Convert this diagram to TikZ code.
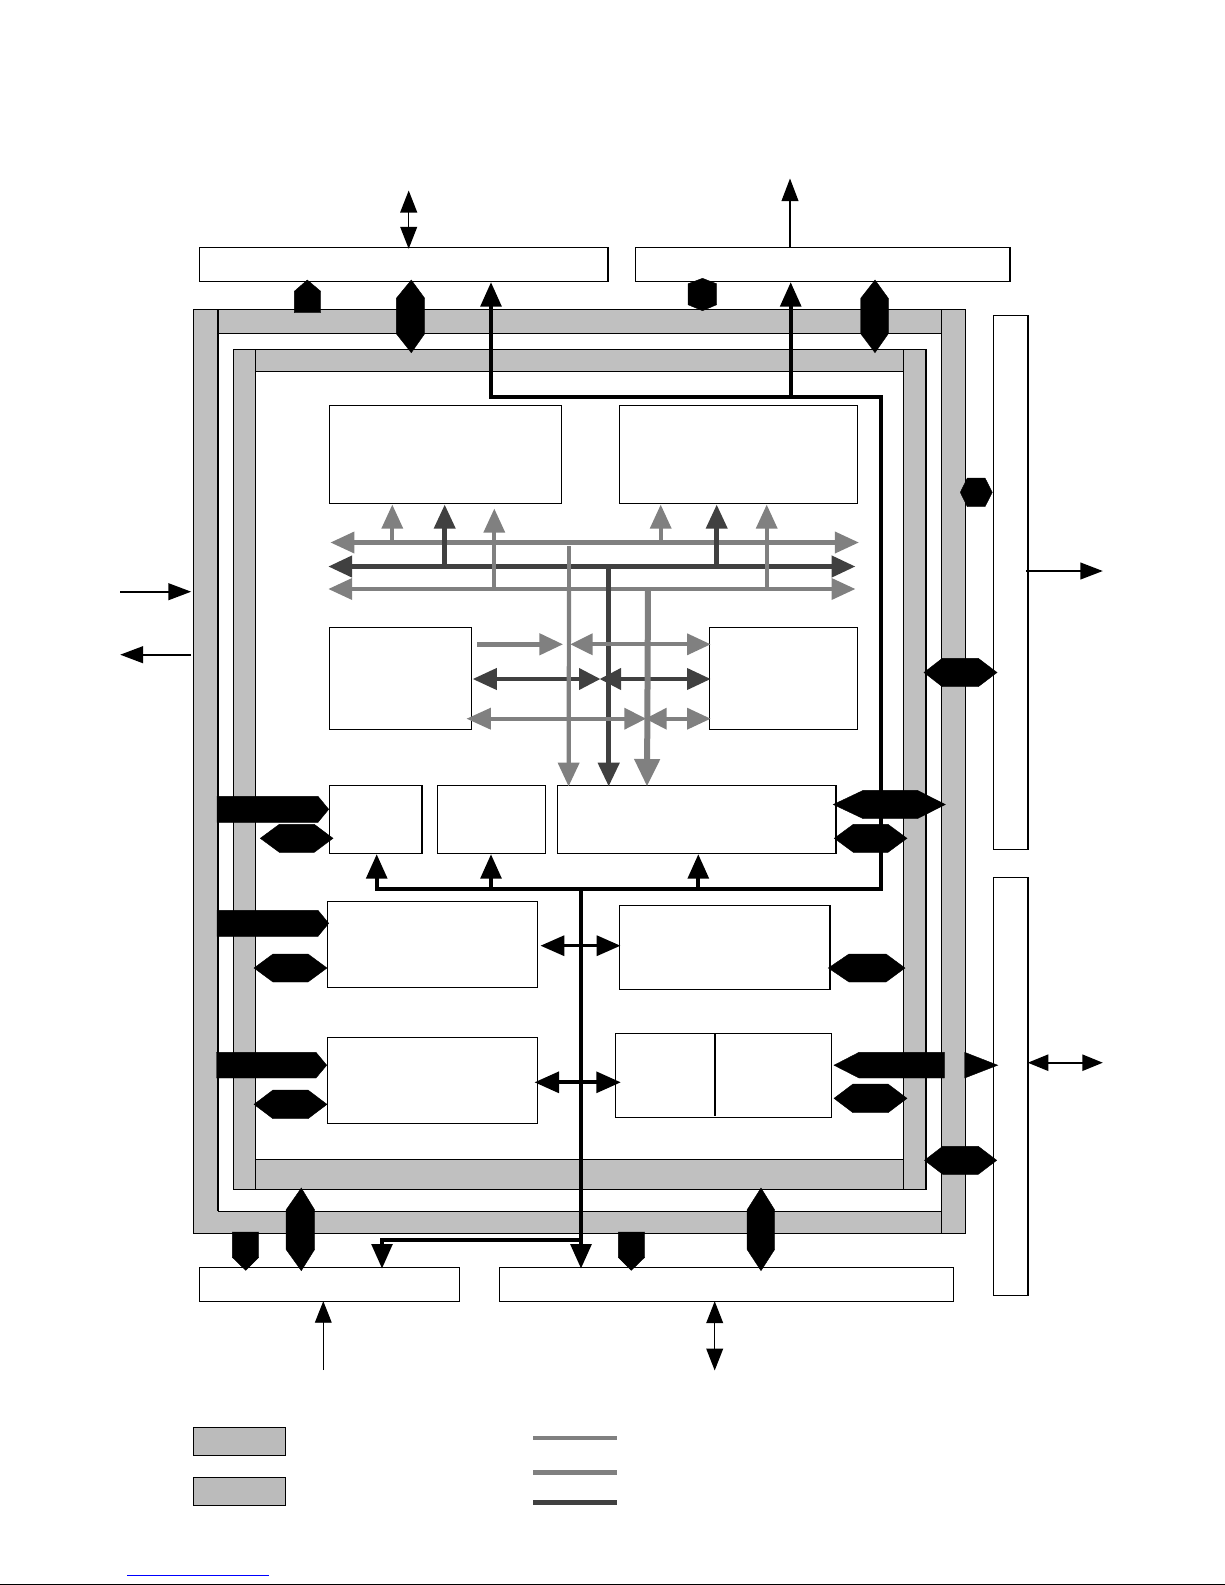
\documentclass[tikz,border=0pt]{standalone}
\usetikzlibrary{arrows.meta}
\definecolor{ringgray}{HTML}{C0C0C0}
\definecolor{busgray}{HTML}{808080}
\definecolor{busdark}{HTML}{404040}
\definecolor{legendgray}{HTML}{BBBBBB}
\tikzset{
  blockbox/.style={draw=black,fill=white,line width=1pt,inner sep=0pt,outer sep=0pt},
  legendbox/.style={draw=black,fill=legendgray,line width=1.3pt,inner sep=0pt,outer sep=0pt},
  heavyedge/.style={draw=black,line width=1.9pt,line cap=butt},
  ringline/.style={draw=black,line width=1pt,line cap=butt},
  fatmark/.style={fill=black,draw=black,line width=0.4pt,line join=miter},
  thinout/.style={draw=black,line cap=butt,-{Triangle[length=22.5pt,width=16.8pt]}},
  thinboth/.style={draw=black,line cap=butt,{Triangle[length=22pt,width=16.8pt]}-{Triangle[length=22pt,width=16.8pt]}},
  busk/.style={draw=black,line width=3.7pt,line cap=butt,line join=miter,-{Triangle[length=24.5pt,width=20.8pt]}},
  buskb/.style={draw=black,line width=3.7pt,line cap=butt,line join=miter,{Triangle[length=24.5pt,width=20.8pt]}-{Triangle[length=24.5pt,width=20.8pt]}},
  busg/.style={draw=busgray,line width=4.3pt,line cap=butt,{Triangle[length=24pt,width=20.8pt]}-{Triangle[length=24pt,width=20.8pt]}},
  busd/.style={draw=busdark,line width=5pt,line cap=butt,{Triangle[length=24pt,width=20.8pt]}-{Triangle[length=24pt,width=20.8pt]}},
  riseg/.style={draw=busgray,line width=4.2pt,line cap=butt,-{Triangle[length=24.2pt,width=20.8pt]}},
  rised/.style={draw=busdark,line width=4.7pt,line cap=butt,-{Triangle[length=24.2pt,width=20.8pt]}},
}
% box by corners: name, x1, y1, x2, y2
\newcommand\blk[6][blockbox]{\node[#1,minimum width={(#5-#3)*1pt},minimum height={(#6-#4)*1pt}] (#2) at ({(#3+#5)/2},{(#4+#6)/2}) {};}
\newcommand\heavyright[1]{\draw[heavyedge] (#1.north east) -- (#1.south east);}
% connector with named free ends
\newcommand\conn[4]{\coordinate (#2a) at (#3);\coordinate (#2b) at (#4);\draw[#1] (#2a) -- (#2b);}
% horizontal hexagon: x1, s1, s2, x2, top, bottom
\newcommand\hhex[6]{\draw[fatmark] (#1,{(#5+#6)/2}) -- (#2,#5) -- (#3,#5) -- (#4,{(#5+#6)/2}) -- (#3,#6) -- (#2,#6) -- cycle;}
% vertical hexagon: y1, s1, s2, y2, left, tipx, right
\newcommand\vhex[7]{\draw[fatmark] (#6,#1) -- (#7,#2) -- (#7,#3) -- (#6,#4) -- (#5,#3) -- (#5,#2) -- cycle;}
\begin{document}
\begin{tikzpicture}[x=1pt,y=-1pt]
\useasboundingbox (0,0) rectangle (1225,1585);
\fill[white] (0,0) rectangle (1225,1585);

% outer ring
\path[fill=ringgray] (193.5,309) rectangle (965,1233);
\path[fill=white] (218,333) rectangle (941.7,1211);
\draw[ringline] (193.5,309) rectangle (965,1233);
\draw[ringline,line width=2pt] (218,309) -- (218,1211);
\draw[ringline] (218,333) -- (941.7,333);
\draw[ringline] (218,1211) -- (941.7,1211);
\draw[ringline] (941.7,309) -- (941.7,1233);

% inner ring
\path[fill=ringgray] (233.5,349.3) rectangle (926,1189.3);
\path[fill=white] (255.7,371.3) rectangle (903.3,1159.3);
\draw[ringline] (233.5,349.3) rectangle (926,1189.3);
\draw[ringline,line width=2pt] (926,349.3) -- (926,1189.3);
\draw[ringline] (255.7,349.3) -- (255.7,1189.3);
\draw[ringline] (903.3,349.3) -- (903.3,1189.3);
\draw[ringline] (255.7,371.3) -- (903.3,371.3);
\draw[ringline] (255.7,1159.3) -- (903.3,1159.3);

% outside blocks
\blk{topa}{199.5}{247}{608}{281}
\blk{topb}{635}{247}{1010}{281}
\blk{sidea}{993.3}{315.3}{1028}{849.3}
\blk{sideb}{993.3}{877.3}{1028}{1295.3}
\blk{bota}{199.3}{1267.3}{459.3}{1301.3}
\blk{botb}{499.3}{1267.3}{953.3}{1301.3}
\heavyright{topa}\heavyright{topb}\heavyright{sidea}\heavyright{sideb}

% inside blocks
\blk{rama}{329.3}{405.3}{561.3}{503.3}
\blk{ramb}{619.3}{405.3}{857.3}{503.3}
\blk{mida}{329.3}{627.3}{471.7}{729.3}
\blk{midb}{709.5}{627.3}{857.9}{729.3}
\blk{rowa}{329.3}{785.3}{422.3}{853.3}
\blk{rowb}{437.3}{785.3}{545.7}{853.3}
\blk{rowc}{557.3}{785.3}{836.3}{853.3}
\blk{lowa}{327.3}{901.3}{537.7}{987.3}
\blk{lowb}{619.3}{905.3}{830.3}{989.3}
\blk{lowc}{327.3}{1037.3}{537.7}{1123.3}
\blk{lowd}{615.3}{1033.3}{831.3}{1117.3}
\heavyright{rowa}\heavyright{rowc}\heavyright{lowb}
\coordinate (divt) at (715,1033.3);\coordinate (divb) at (715,1115.7);
\draw[heavyedge,line width=1.6pt] (divt) -- (divb);

% black bus
\coordinate (busa) at (491,282.2);\coordinate (busb) at (491,397);\coordinate (busc) at (881,397);
\coordinate (busd) at (881,889);\coordinate (buse) at (376.7,889);\coordinate (busf) at (376.7,854.2);
\draw[buskb] (busa) -- (busb) -- (busc) -- (busd) -- (buse) -- (busf);
\conn{busk}{busup}{790.7,397}{790.7,282.2}
\conn{busk}{busrb}{491,889}{491,854.2}
\conn{busk}{busrc}{698.3,889}{698.3,854.2}
\conn{busk}{busdn}{581,889}{581,1268.5}
\coordinate (brab) at (581,1240);\coordinate (brac) at (382,1240);\coordinate (brad) at (382,1268.5);
\draw[busk,line width=3.2pt] (brab) -- (brac) -- (brad);
\conn{buskb,line width=3.2pt,{Triangle[length=23.8pt,width=20pt]}-{Triangle[length=23.8pt,width=20pt]}}{crossa}{540.5,945.7}{620.5,945.7}
\conn{buskb}{crossb}{534.5,1082.3}{620.8,1082.3}

% multilayer buses
\conn{busd}{dbus}{328.2,566.5}{855.5,566.5}
\conn{riseg}{upb}{494.3,589}{494.3,508.5}
\conn{riseg}{upf}{766.7,589}{766.7,504.5}
\conn{draw=busgray,line width=4.2pt,line cap=butt}{dnas}{569,546}{569,589}
\conn{busg}{gbusb}{328.2,589}{855.5,589}
\conn{busg}{gbusa}{330.4,542.5}{858.9,542.5}
\conn{riseg}{upa}{392.3,542.5}{392.3,504.5}
\conn{riseg}{upd}{660.7,542.5}{660.7,504.5}
\conn{rised}{upc}{444.7,566.5}{444.7,504.5}
\conn{rised}{upe}{716.7,566.5}{716.7,504.5}

\conn{draw=busdark,line width=5pt,line cap=butt,-{Triangle[length=23.8pt,width=20.8pt]}}{dna}{608.7,566.5}{608.7,786.5}
\conn{draw=busgray,line width=5pt,line cap=butt,-{Triangle[length=23.8pt,width=20.8pt]}}{gra}{477.2,644.3}{563.2,644.3}
\conn{busg,{Triangle[length=22.5pt,width=20.8pt]}-{Triangle[length=23.8pt,width=20.8pt]}}{grb}{570.2,644.3}{710.8,644.3}
\conn{busd,line width=4.5pt,{Triangle[length=24.2pt,width=20.8pt]}-{Triangle[length=21.5pt,width=20.8pt]}}{dma}{472.6,679}{600.5,679}
\conn{busd,line width=4.5pt,{Triangle[length=21.5pt,width=20.8pt]}-{Triangle[length=23.8pt,width=20.8pt]}}{dmb}{599.5,679}{710.8,679}
\conn{busg,{Triangle[length=24.5pt,width=20.8pt]}-{Triangle[length=21.9pt,width=20.8pt]}}{gla}{466.4,718.7}{646.2,718.7}
\conn{busg,{Triangle[length=21.5pt,width=20.8pt]}-{Triangle[length=23.8pt,width=20.8pt]}}{glb}{645.2,718.7}{710.8,718.7}
\conn{draw=busgray,line width=4.2pt,line cap=butt,-{Triangle[length=23.8pt,width=20.8pt]}}{dnb}{569,589}{568.6,786.5}
\conn{draw=busgray,line width=6pt,line cap=butt,-{Triangle[length=27.5pt,width=24.5pt]}}{dnc}{648,589}{647,786.5}

% wide black arrows: top
\draw[fatmark] (307.3,280) -- (320.7,291.3) -- (320.7,312.7) -- (294.3,312.7) -- (294.3,291.3) -- cycle;
\vhex{280}{298.3}{333.7}{352.7}{396.3}{411.3}{424.7}
\vhex{278.3}{283.8}{304.7}{310.7}{688}{702.5}{716.7}
\vhex{280}{298.3}{333.7}{352.7}{860.7}{875}{888.3}
% wide black arrows: right side
\hhex{960.3}{967.3}{985}{992.3}{478}{506.7}
\hhex{924}{942.3}{978.3}{997}{658.3}{686.7}
\hhex{924.5}{942.7}{978.3}{996.7}{1146.3}{1174.3}
% wide black arrows: left side
\draw[fatmark] (217,796.3) -- (318,796.3) -- (328.7,809.3) -- (318,822.3) -- (217,822.3) -- cycle;
\hhex{260.3}{279.3}{314.3}{333}{824.3}{852.3}
\draw[fatmark] (217,910.3) -- (318,910.3) -- (328.7,923.3) -- (318,936.3) -- (217,936.3) -- cycle;
\hhex{254}{273}{308}{327}{954}{982}
\draw[fatmark] (216.5,1052.3) -- (316,1052.3) -- (326.7,1065.2) -- (316,1078) -- (216.5,1078) -- cycle;
\hhex{254}{273}{308}{327}{1090}{1118.7}
% wide black arrows: block row right
\hhex{833.3}{863.3}{917.3}{945.3}{790.3}{818.7}
\hhex{834.3}{853.3}{888}{907}{824.3}{852.3}
\hhex{828.3}{849}{886}{905}{954}{982}
\draw[fatmark] (834,1065.2) -- (859,1052.3) -- (944.3,1052.3) -- (944.3,1078) -- (859,1078) -- cycle;
\draw[fatmark] (964.7,1052.3) -- (997.7,1065.2) -- (964.7,1078) -- cycle;
\hhex{834}{853}{888}{907}{1084}{1112.7}
% wide black arrows: bottom
\draw[fatmark] (232.3,1232) -- (258.7,1232) -- (258.7,1257.3) -- (245.7,1270.3) -- (232.3,1257.3) -- cycle;
\vhex{1188}{1210}{1249.3}{1270.7}{286}{301.3}{314.7}
\draw[fatmark] (618.3,1232) -- (644.7,1232) -- (644.7,1257.3) -- (631.3,1270.3) -- (618.3,1257.3) -- cycle;
\vhex{1188}{1210}{1249.3}{1270.7}{747}{761}{774.7}

% thin arrows
\conn{thinboth,line width=1.5pt}{ta}{408.7,190.5}{408.7,248.8}
\conn{thinout,line width=1.3pt}{tb}{790,247}{790,178.5}
\conn{thinout,line width=1.7pt,-{Triangle[length=22.9pt,width=16.8pt]}}{la}{120,591.7}{191.2,591.7}
\conn{thinout,line width=1.7pt,-{Triangle[length=22.9pt,width=16.8pt]}}{lb}{191,654.7}{120.2,654.7}
\conn{thinout,line width=1.7pt}{ra}{1026,571}{1102.8,571}
\conn{thinboth,line width=1.6pt,{Triangle[length=20.5pt,width=16.3pt]}-{Triangle[length=20.5pt,width=16.3pt]}}{rb}{1027.8,1062.7}{1102.8,1062.7}
\conn{thinout,line width=0.9pt,-{Triangle[length=21.5pt,width=16.8pt]}}{ba}{323.3,1370}{323.3,1301.2}
\conn{thinboth,line width=1.4pt}{bb}{714.7,1301.2}{714.7,1370.5}

% legend
\blk[legendbox]{lega}{193.3}{1427.3}{285.7}{1455.3}
\blk[legendbox]{legb}{193.3}{1477.3}{285.7}{1505.3}
\conn{draw=busgray,line width=4pt,line cap=butt}{lina}{533,1438}{617,1438}
\conn{draw=busgray,line width=5pt,line cap=butt}{linb}{533,1472.3}{617,1472.3}
\conn{draw=busdark,line width=5pt,line cap=butt}{linc}{533,1502.3}{617,1502.3}

% page foot
\conn{draw={rgb,255:red,0;green,0;blue,255},line width=1pt}{foota}{127,1575.7}{269,1575.7}
\conn{draw=black,line width=1pt}{footb}{0,1584.4}{1225,1584.4}
\end{tikzpicture}
\end{document}
